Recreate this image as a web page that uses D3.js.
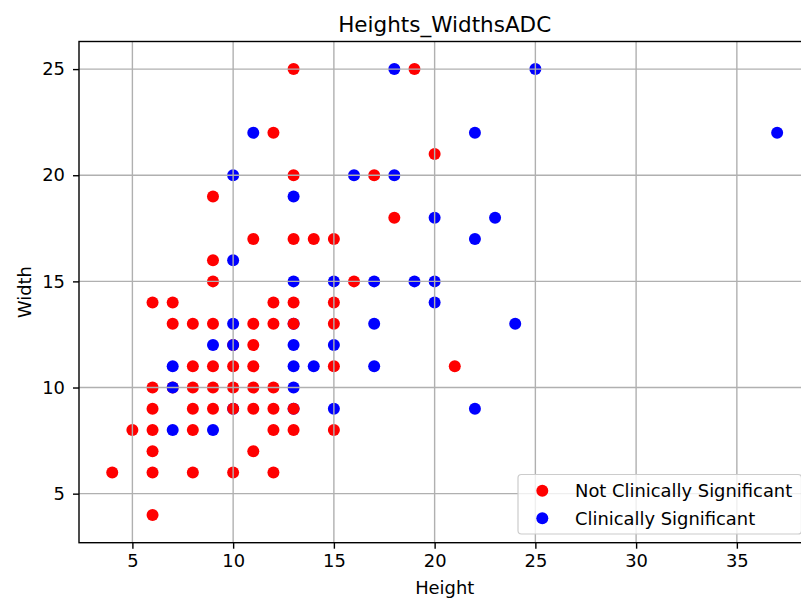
<!DOCTYPE html>
<html>
<head>
<meta charset="utf-8">
<script src="https://cdn.jsdelivr.net/npm/d3@7"></script>
<style>
  body { margin: 0; background: #fff; }
  svg { display: block; overflow: hidden; }
  text { font-family: "DejaVu Sans", sans-serif; fill: #000; }
</style>
</head>
<body>
<svg id="chart" width="801" height="598"></svg>
<script>
// Lesion measurements, listed in plotting order (later points sit on top)
const heights = [
  13, 10, 13,
  13, 19, 12, 13, 17, 20, 9, 18, 11, 13, 14, 15, 9, 9, 16, 6, 7, 12, 13, 15,
  7, 8, 9, 11, 12, 13, 15, 10, 11, 8, 9, 10, 11, 15, 21, 6, 7, 8, 9, 10, 11, 12,
  6, 8, 9, 10, 11, 12, 13, 5, 6, 8, 12, 13, 15, 6, 11, 4, 6, 8, 10, 12, 6,
  18, 25, 11, 22, 37, 10, 16, 18, 13, 20, 23, 22, 10, 13, 15, 17, 19, 20, 20,
  10, 17, 24, 9, 10, 13, 15, 7, 13, 14, 17, 7, 13, 15, 22, 7, 9
];
const widths = [
  13, 9, 9,
  25, 25, 22, 20, 20, 21, 19, 18, 17, 17, 17, 17, 16, 15, 15, 14, 14, 14, 14, 14,
  13, 13, 13, 13, 13, 13, 13, 12, 12, 11, 11, 11, 11, 11, 11, 10, 10, 10, 10, 10, 10, 10,
  9, 9, 9, 9, 9, 9, 9, 8, 8, 8, 8, 8, 8, 7, 7, 6, 6, 6, 6, 6, 4,
  25, 25, 22, 22, 22, 20, 20, 20, 19, 18, 18, 17, 16, 15, 15, 15, 15, 15, 14,
  13, 13, 13, 12, 12, 12, 12, 11, 11, 11, 11, 10, 10, 9, 9, 8, 8
];
// 1 = clinically significant, 0 = not clinically significant
const significant = [
  1, 1, 1,
  0, 0, 0, 0, 0, 0, 0, 0, 0, 0, 0, 0, 0, 0, 0, 0, 0, 0, 0, 0,
  0, 0, 0, 0, 0, 0, 0, 0, 0, 0, 0, 0, 0, 0, 0, 0, 0, 0, 0, 0, 0, 0,
  0, 0, 0, 0, 0, 0, 0, 0, 0, 0, 0, 0, 0, 0, 0, 0, 0, 0, 0, 0, 0,
  1, 1, 1, 1, 1, 1, 1, 1, 1, 1, 1, 1, 1, 1, 1, 1, 1, 1, 1,
  1, 1, 1, 1, 1, 1, 1, 1, 1, 1, 1, 1, 1, 1, 1, 1, 1
];
const classNames = ["Not Clinically Significant", "Clinically Significant"];
const classColors = ["#ff0000", "#0000ff"];
const xTicks = [5, 10, 15, 20, 25, 30, 35];
const yTicks = [5, 10, 15, 20, 25];

const svg = d3.select("#chart");
const plotLeft = 79, plotRight = 810.4, plotTop = 41.5, plotBottom = 542.7;
const fontSize = 17.9;

const x = d3.scaleLinear().domain([2.35, 38.65]).range([plotLeft, plotRight]);
const y = d3.scaleLinear().domain([2.69, 26.3]).range([plotBottom, plotTop]);

const points = heights.map((h, i) => ({ h, w: widths[i], s: significant[i] }));

// markers
svg.append("g")
  .selectAll("circle")
  .data(points)
  .join("circle")
  .attr("cx", d => x(d.h))
  .attr("cy", d => y(d.w))
  .attr("r", 6)
  .attr("fill", d => classColors[d.s]);

// grid (drawn above the markers)
const grid = svg.append("g").attr("stroke", "#b0b0b0").attr("stroke-width", 1.4);
grid.selectAll(".gx").data(xTicks).join("line")
  .attr("class", "gx")
  .attr("x1", d => x(d)).attr("x2", d => x(d))
  .attr("y1", plotTop).attr("y2", plotBottom);
grid.selectAll(".gy").data(yTicks).join("line")
  .attr("class", "gy")
  .attr("x1", plotLeft).attr("x2", plotRight)
  .attr("y1", d => y(d)).attr("y2", d => y(d));

// axes
const xAxis = svg.append("g")
  .attr("transform", `translate(0,${plotBottom})`)
  .call(d3.axisBottom(x).tickValues(xTicks).tickFormat(d3.format("d"))
    .tickSize(6).tickSizeOuter(0).tickPadding(6));
const yAxis = svg.append("g")
  .attr("transform", `translate(${plotLeft},0)`)
  .call(d3.axisLeft(y).tickValues(yTicks).tickFormat(d3.format("d"))
    .tickSize(6).tickSizeOuter(0).tickPadding(8));
[xAxis, yAxis].forEach(a => {
  a.select(".domain").remove();
  a.selectAll(".tick line").attr("stroke", "#000").attr("stroke-width", 1.4);
  a.selectAll(".tick text")
    .attr("font-family", "DejaVu Sans, sans-serif")
    .attr("font-size", fontSize)
    .attr("fill", "#000");
});

// spines
svg.append("rect")
  .attr("x", plotLeft).attr("y", plotTop)
  .attr("width", plotRight - plotLeft).attr("height", plotBottom - plotTop)
  .attr("fill", "none").attr("stroke", "#000").attr("stroke-width", 1.4);

// title and axis labels
svg.append("text")
  .attr("x", (plotLeft + plotRight) / 2).attr("y", 31.5)
  .attr("text-anchor", "middle").attr("font-size", 21.5)
  .text("Heights_WidthsADC");
svg.append("text")
  .attr("x", (plotLeft + plotRight) / 2).attr("y", 594)
  .attr("text-anchor", "middle").attr("font-size", fontSize)
  .text("Height");
svg.append("text")
  .attr("transform", `translate(31,${(plotTop + plotBottom) / 2}) rotate(-90)`)
  .attr("text-anchor", "middle").attr("font-size", fontSize)
  .text("Width");

// legend
const legend = svg.append("g");
legend.append("rect")
  .attr("x", 518).attr("y", 474.5)
  .attr("width", 283.5).attr("height", 59.5)
  .attr("rx", 3.5)
  .attr("fill", "#fff").attr("fill-opacity", 0.8)
  .attr("stroke", "#cccccc").attr("stroke-width", 1.2);
const rows = legend.selectAll("g.row")
  .data(classNames)
  .join("g")
  .attr("class", "row")
  .attr("transform", (d, i) => `translate(0,${490.7 + i * 27.6})`);
rows.append("circle")
  .attr("cx", 542.3).attr("cy", 0).attr("r", 6)
  .attr("fill", (d, i) => classColors[i]);
rows.append("text")
  .attr("x", 575).attr("y", 6.3)
  .attr("font-size", fontSize)
  .text(d => d);
</script>
</body>
</html>
